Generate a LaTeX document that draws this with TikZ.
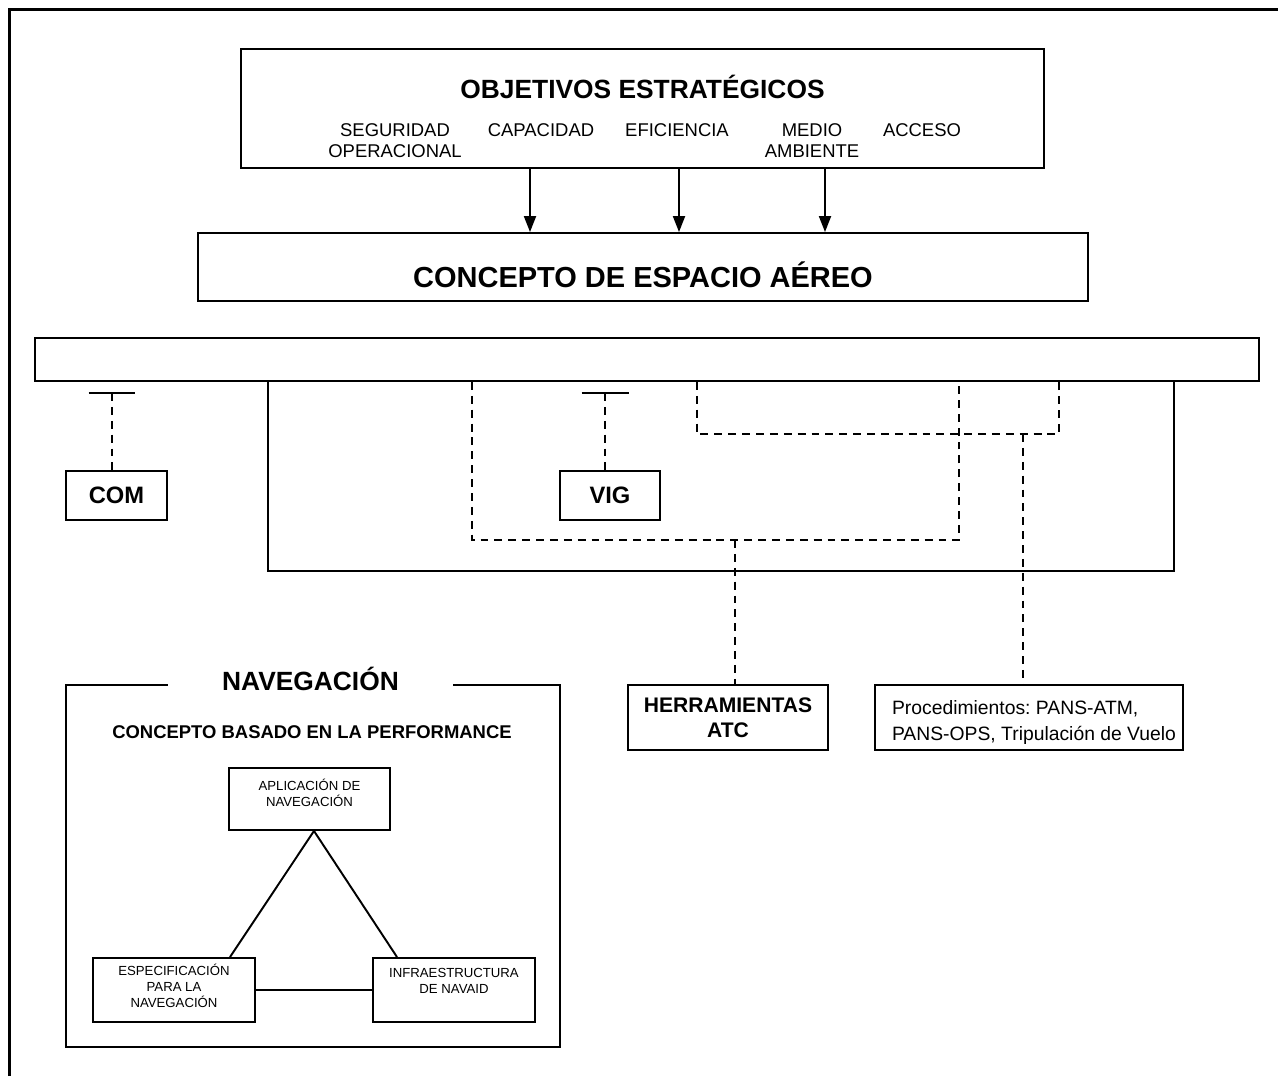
\documentclass[tikz,border=0pt]{standalone}
\usepackage{fontspec}
\setmainfont{Liberation Sans}
\usetikzlibrary{positioning,arrows.meta,calc}
\frenchspacing

\begin{document}
\begin{tikzpicture}[
    x=0.02cm, y=-0.02cm,
    line width=1.1pt,
    box/.style={rectangle, draw=black, line width=1.1pt, inner sep=0pt, align=center},
    arr/.style={-{Triangle[length=3.2mm, width=2.4mm]}, line width=1.1pt},
    dashline/.style={line width=1.1pt, dash pattern=on 4.5pt off 3.4pt},
    head/.style={font=\bfseries\fontsize{15}{18}\selectfont, inner sep=0pt},
    item/.style={font=\fontsize{10.5}{11.5}\selectfont, align=center, inner sep=0pt},
    small/.style={font=\fontsize{7.5}{9.1}\selectfont, align=center, inner sep=0pt}
]
\useasboundingbox (0,0) rectangle (1278,1076);

% page frame
\draw[line width=1.3pt] (9.5,1076) -- (9.5,9.5) -- (1278,9.5);

% strategic objectives
\node[box, minimum width=16.06cm, minimum height=2.38cm] (obj) at (642.5,108.5) {};
\node[head, anchor=base] (objt) at (642.5,98) {OBJETIVOS ESTRATÉGICOS};
\foreach \x/\t [count=\i] in {395/{SEGURIDAD\\OPERACIONAL}, 541/CAPACIDAD, 677/EFICIENCIA, 812/{MEDIO\\AMBIENTE}, 922/ACCESO}
  \node[item, anchor=north] (goal\i) at (\x,123) {\t};

% airspace concept
\node[box, minimum width=17.8cm, minimum height=1.36cm] (air) at (643,267) {};
\node[font=\bfseries\fontsize{16.5}{20}\selectfont, inner sep=0pt, anchor=base] (airt) at (643,287) {CONCEPTO DE ESPACIO AÉREO};

\foreach \x [count=\i] in {530,679,825} {
  \coordinate (a\i) at (\x,200);
  \draw[arr] (obj.south -| a\i) -- (air.north -| a\i);
}

% bar and frame below it
\node[box, minimum width=24.48cm, minimum height=0.86cm] (bar) at (647,359.5) {};
\coordinate (fl) at (268,571);
\coordinate (fr) at (1174,571);
\draw (bar.south -| fl) -- (fl) -- (fr) -- (bar.south -| fr);

% COM and VIG
\node[box, font=\bfseries\fontsize{13.5}{16}\selectfont, minimum width=2.02cm, minimum height=0.98cm] (com) at (116.5,495.5) {COM};
\node[box, font=\bfseries\fontsize{13.5}{16}\selectfont, minimum width=2cm, minimum height=0.98cm] (vig) at (610,495.5) {VIG};
\foreach \n/\x in {com/112, vig/605} {
  \coordinate (\n T) at (\x,393);
  \draw ([xshift=-0.47cm]\n T) -- ([xshift=0.47cm]\n T);
  \draw[dashline] (\n T) -- (\n T |- \n.north);
}

% ATC tools and procedures
\node[box, font=\bfseries\fontsize{12}{14.4}\selectfont, minimum width=4cm, minimum height=1.3cm] (herr) at (728,717.5) {HERRAMIENTAS\\ATC};
\node[box, minimum width=6.16cm, minimum height=1.3cm] (proc) at (1029,717.5) {};
\node[font=\fontsize{11}{14.8}\selectfont, align=left, inner sep=0pt, anchor=north west] (proct)
  at ([xshift=0.34cm, yshift=-0.3cm]proc.north west) {Procedimientos: PANS-ATM,\\PANS-OPS, Tripulación de Vuelo};

% dashed links
\coordinate (l1a) at (472,540);
\coordinate (l1b) at (959,540);
\draw[dashline] (bar.south -| l1a) -- (l1a) -- (l1b) -- (bar.south -| l1b);
\coordinate (l2a) at (697,434);
\coordinate (l2b) at (1059,434);
\draw[dashline] (bar.south -| l2a) -- (l2a) -- (l2b) -- (bar.south -| l2b);
\coordinate (j1) at (735,540);
\coordinate (j2) at (1023,434);
\draw[dashline] (j1) -- (j1 |- herr.north);
\draw[dashline] (j2) -- (j2 |- proc.north);

% navigation
\node[box, minimum width=9.88cm, minimum height=7.24cm] (nav) at (313,866) {};
\node[head, fill=white, inner xsep=1.09cm, inner ysep=1pt, anchor=base] (navt) at (310.5,690.5) {NAVEGACIÓN};
\node[font=\bfseries\fontsize{10.5}{12}\selectfont, inner sep=0pt, anchor=base] (pbn) at (312,738.5) {CONCEPTO BASADO EN LA PERFORMANCE};

\node[box, minimum width=3.22cm, minimum height=1.24cm] (app) at (309.5,799) {};
\node[small, anchor=north, below=0.23cm of app.north] (appt) {APLICACIÓN DE\\NAVEGACIÓN};
\node[box, minimum width=3.24cm, minimum height=1.28cm] (esp) at (174,990) {};
\node[small, anchor=north, below=0.13cm of esp.north] (espt) {ESPECIFICACIÓN\\PARA LA\\NAVEGACIÓN};
\node[box, minimum width=3.24cm, minimum height=1.28cm] (inf) at (454,990) {};
\node[small, anchor=north, below=0.2cm of inf.north] (inft) {INFRAESTRUCTURA\\DE NAVAID};

\draw ([xshift=0.09cm]app.south) -- ([xshift=1.12cm]esp.north);
\draw ([xshift=0.09cm]app.south) -- ([xshift=-1.14cm]inf.north);
\draw (esp.east) -- (inf.west);

\end{tikzpicture}
\end{document}
